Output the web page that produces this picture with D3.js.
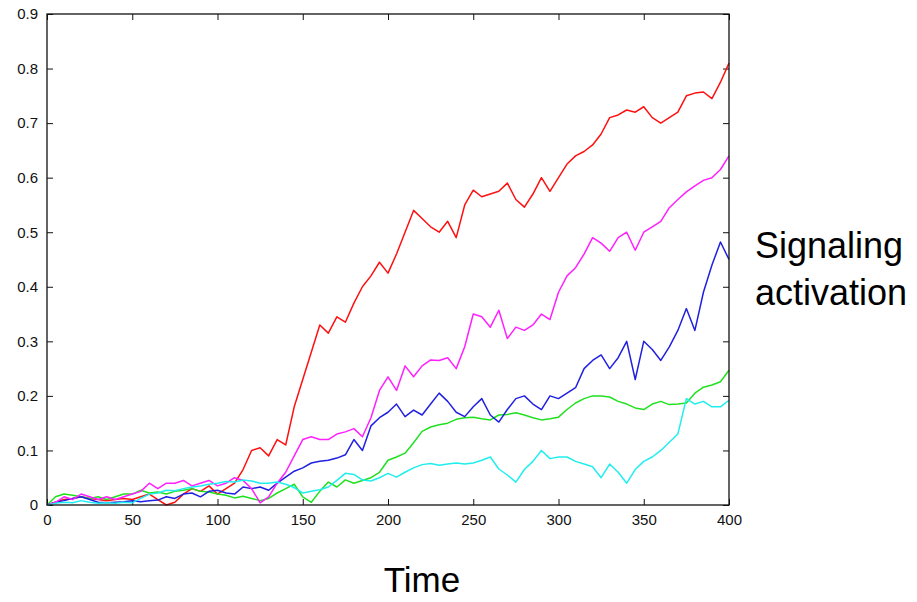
<!DOCTYPE html>
<html>
<head>
<meta charset="utf-8">
<script src="https://cdnjs.cloudflare.com/ajax/libs/d3/7.8.5/d3.min.js"></script>
<style>
  body { margin: 0; background: #fff; }
  svg text { font-family: "Liberation Sans", Arial, sans-serif; }
</style>
</head>
<body>
<div id="chart"></div>
<script>
// time points every 5 units, 0..400
var times = d3.range(0, 401, 5);

// values
var redVals = [0,0.005,0.01,0.012,0.015,0.012,0.01,0.008,0.01,0.012,0.01,0.015,0.02,0.01,0.0,0.005,0.02,0.03,0.025,0.035,0.02,0.03,0.04,0.065,0.1,0.105,0.09,0.12,0.11,0.18,0.23,0.28,0.33,0.315,0.345,0.335,0.37,0.4,0.42,0.445,0.425,0.46,0.5,0.54,0.525,0.51,0.5,0.52,0.49,0.55,0.577,0.565,0.57,0.575,0.59,0.56,0.546,0.57,0.6,0.575,0.6,0.625,0.64,0.648,0.66,0.68,0.71,0.715,0.724,0.72,0.73,0.71,0.7,0.71,0.72,0.75,0.755,0.757,0.745,0.775,0.81];
var greenVals = [0,0.015,0.02,0.018,0.015,0.012,0.015,0.01,0.015,0.02,0.02,0.027,0.022,0.024,0.02,0.025,0.027,0.03,0.025,0.024,0.02,0.018,0.013,0.016,0.012,0.008,0.012,0.022,0.03,0.038,0.015,0.005,0.025,0.042,0.033,0.046,0.04,0.045,0.05,0.06,0.082,0.088,0.095,0.114,0.135,0.143,0.147,0.15,0.157,0.16,0.161,0.158,0.156,0.165,0.166,0.169,0.165,0.16,0.156,0.158,0.161,0.175,0.187,0.195,0.2,0.2,0.198,0.19,0.185,0.178,0.175,0.185,0.19,0.184,0.185,0.187,0.205,0.216,0.22,0.226,0.247];
var blueVals = [0,0.005,0.008,0.012,0.015,0.01,0.005,0.004,0.005,0.006,0.008,0.006,0.008,0.009,0.015,0.012,0.02,0.022,0.015,0.025,0.027,0.022,0.02,0.033,0.03,0.033,0.027,0.04,0.051,0.062,0.068,0.077,0.08,0.082,0.086,0.092,0.12,0.1,0.145,0.16,0.17,0.185,0.162,0.174,0.165,0.185,0.205,0.19,0.17,0.162,0.18,0.195,0.165,0.152,0.175,0.195,0.2,0.185,0.175,0.2,0.195,0.205,0.215,0.25,0.265,0.275,0.25,0.27,0.3,0.23,0.3,0.285,0.265,0.29,0.32,0.36,0.32,0.39,0.44,0.482,0.45];
var magentaVals = [0,0.005,0.015,0.01,0.02,0.015,0.01,0.015,0.01,0.015,0.02,0.025,0.04,0.03,0.04,0.04,0.045,0.035,0.04,0.045,0.035,0.04,0.05,0.045,0.03,0.004,0.015,0.04,0.06,0.09,0.12,0.125,0.12,0.12,0.13,0.134,0.14,0.125,0.16,0.21,0.235,0.21,0.255,0.235,0.255,0.266,0.265,0.27,0.25,0.29,0.35,0.345,0.326,0.357,0.305,0.326,0.32,0.33,0.35,0.34,0.39,0.42,0.435,0.46,0.49,0.48,0.465,0.49,0.5,0.467,0.5,0.51,0.52,0.545,0.56,0.574,0.585,0.595,0.6,0.615,0.64];
var cyanVals = [0,0.003,0.005,0.004,0.008,0.005,0.003,0.004,0.003,0.005,0.004,0.012,0.02,0.022,0.027,0.026,0.03,0.033,0.035,0.038,0.04,0.043,0.042,0.046,0.044,0.04,0.04,0.042,0.038,0.032,0.022,0.025,0.028,0.033,0.045,0.058,0.056,0.046,0.044,0.05,0.058,0.051,0.06,0.068,0.074,0.076,0.073,0.075,0.077,0.075,0.077,0.082,0.088,0.066,0.055,0.042,0.065,0.08,0.1,0.085,0.088,0.088,0.08,0.075,0.07,0.05,0.075,0.06,0.04,0.065,0.08,0.088,0.1,0.115,0.13,0.195,0.185,0.19,0.18,0.18,0.192];

var seriesColors = ["#ff1010", "#20e020", "#2020e0", "#ff20ff", "#20eeee"];
var xTicks = [0, 50, 100, 150, 200, 250, 300, 350, 400];
var yTicks = [0, 0.1, 0.2, 0.3, 0.4, 0.5, 0.6, 0.7, 0.8, 0.9];

var allSeries = [redVals, greenVals, blueVals, magentaVals, cyanVals];

var width = 917, height = 602;
var mLeft = 47, mRight = 729, mTop = 14, mBottom = 505;

var svg = d3.select('#chart').append('svg')
  .attr('width', width)
  .attr('height', height);

var x = d3.scaleLinear().domain([0, 400]).range([mLeft, mRight]);
var y = d3.scaleLinear().domain([0, 0.9]).range([mBottom, mTop]);

var fmt = function(d) { return d === 0 ? "0" : d3.format(".1f")(d); };

// bottom + top axes (ticks pointing inward)
svg.append('g')
  .attr('transform', 'translate(0,' + mBottom + ')')
  .call(d3.axisBottom(x).tickValues(xTicks).tickSizeInner(-6).tickSizeOuter(0).tickPadding(9).tickFormat(d3.format('d')))
  .call(function(g) { g.select('.domain').remove(); });
svg.append('g')
  .attr('transform', 'translate(0,' + mTop + ')')
  .call(d3.axisTop(x).tickValues(xTicks).tickSizeInner(-6).tickSizeOuter(0).tickFormat(''))
  .call(function(g) { g.select('.domain').remove(); });

// left + right axes
svg.append('g')
  .attr('transform', 'translate(' + mLeft + ',0)')
  .call(d3.axisLeft(y).tickValues(yTicks).tickSizeInner(-6).tickSizeOuter(0).tickPadding(9).tickFormat(fmt))
  .call(function(g) { g.select('.domain').remove(); });
svg.append('g')
  .attr('transform', 'translate(' + mRight + ',0)')
  .call(d3.axisRight(y).tickValues(yTicks).tickSizeInner(-6).tickSizeOuter(0).tickFormat(''))
  .call(function(g) { g.select('.domain').remove(); });

svg.selectAll('.tick text')
  .attr('font-size', 15)
  .attr('fill', '#111');
svg.selectAll('.tick line').attr('stroke', '#111');

// the lines
var line = d3.line()
  .x(function(d, i) { return x(times[i]); })
  .y(function(d) { return y(d); });

allSeries.forEach(function(vals, k) {
  svg.append('path')
    .datum(vals)
    .attr('fill', 'none')
    .attr('stroke', seriesColors[k])
    .attr('stroke-width', 1.5)
    .attr('stroke-linejoin', 'round')
    .attr('d', line);
});

// frame
svg.append('rect')
  .attr('x', mLeft).attr('y', mTop)
  .attr('width', mRight - mLeft).attr('height', mBottom - mTop)
  .attr('fill', 'none')
  .attr('stroke', '#111')
  .attr('stroke-width', 1.3);

// axis titles
svg.append('text')
  .attr('x', 422).attr('y', 592)
  .attr('text-anchor', 'middle')
  .attr('font-size', 35)
  .text('Time');

var side = svg.append('text')
  .attr('x', 755).attr('y', 258)
  .attr('font-size', 36);
side.append('tspan').attr('x', 755).attr('y', 258).text('Signaling');
side.append('tspan').attr('x', 755).attr('y', 305).text('activation');
</script>
</body>
</html>
